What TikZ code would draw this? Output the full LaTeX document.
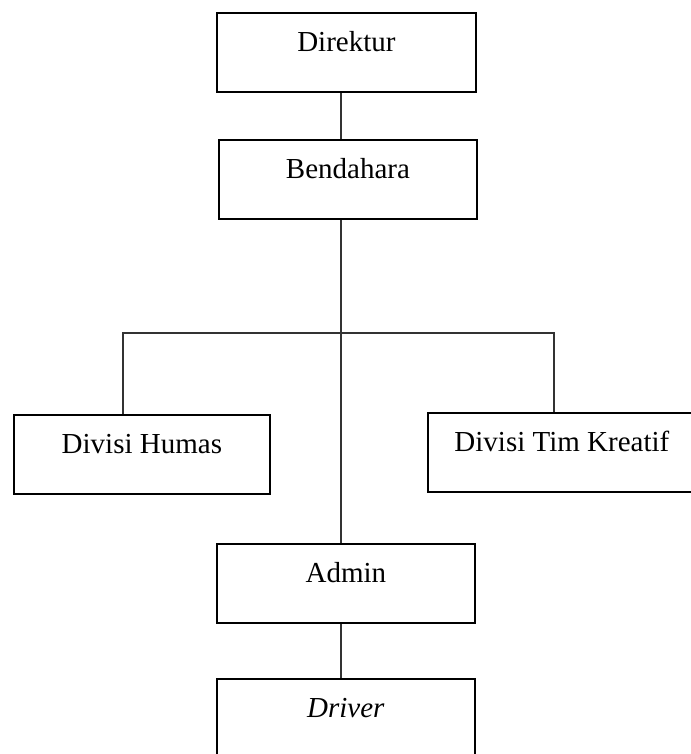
\documentclass[tikz,border=0pt]{standalone}
\usepackage{fontspec}
\setmainfont{Liberation Serif}
\begin{document}
\begin{tikzpicture}[x=0.5pt, y=-0.5pt,
  orgbox/.style={draw, line width=0.9pt, inner sep=0pt, anchor=north west,
    text height=19.5pt, text depth=20pt, font=\fontsize{14.5}{17}\selectfont},
  link/.style={draw=black!80, line width=0.6pt}]
\useasboundingbox (0,0) rectangle (690,754);
% \node at (345, 0) {Struktur};
\node[orgbox, minimum width=129.5pt] (Direktur) at (216,12) {Direktur};
\node[orgbox, minimum width=129pt] (Bendahara) at (218,139) {Bendahara};

\node[orgbox, minimum width=128pt] (Humas) at (13,414) {Divisi Humas};
\node[orgbox, minimum width=134pt] (Kreatif) at (427,412) {Divisi Tim Kreatif};

\node[orgbox, minimum width=129pt] (Admin) at (216,543) {Admin};
\node[orgbox, minimum width=129pt] (Driver) at (216,678) {\textit{Driver}};

\coordinate (trunk) at (341,0);
\coordinate (bar) at (341,333);
\coordinate (left drop) at (123,0);
\coordinate (right drop) at (554,0);

\draw[link] (Direktur.south -| trunk) -- (Bendahara.north -| trunk);
\draw[link] (Bendahara.south -| trunk) -- (Admin.north -| trunk);
\draw[link] (Humas.north -| left drop) |- (bar) -| (Kreatif.north -| right drop);
\draw[link] (Admin.south -| trunk) -- (Driver.north -| trunk);
\end{tikzpicture}
\end{document}
